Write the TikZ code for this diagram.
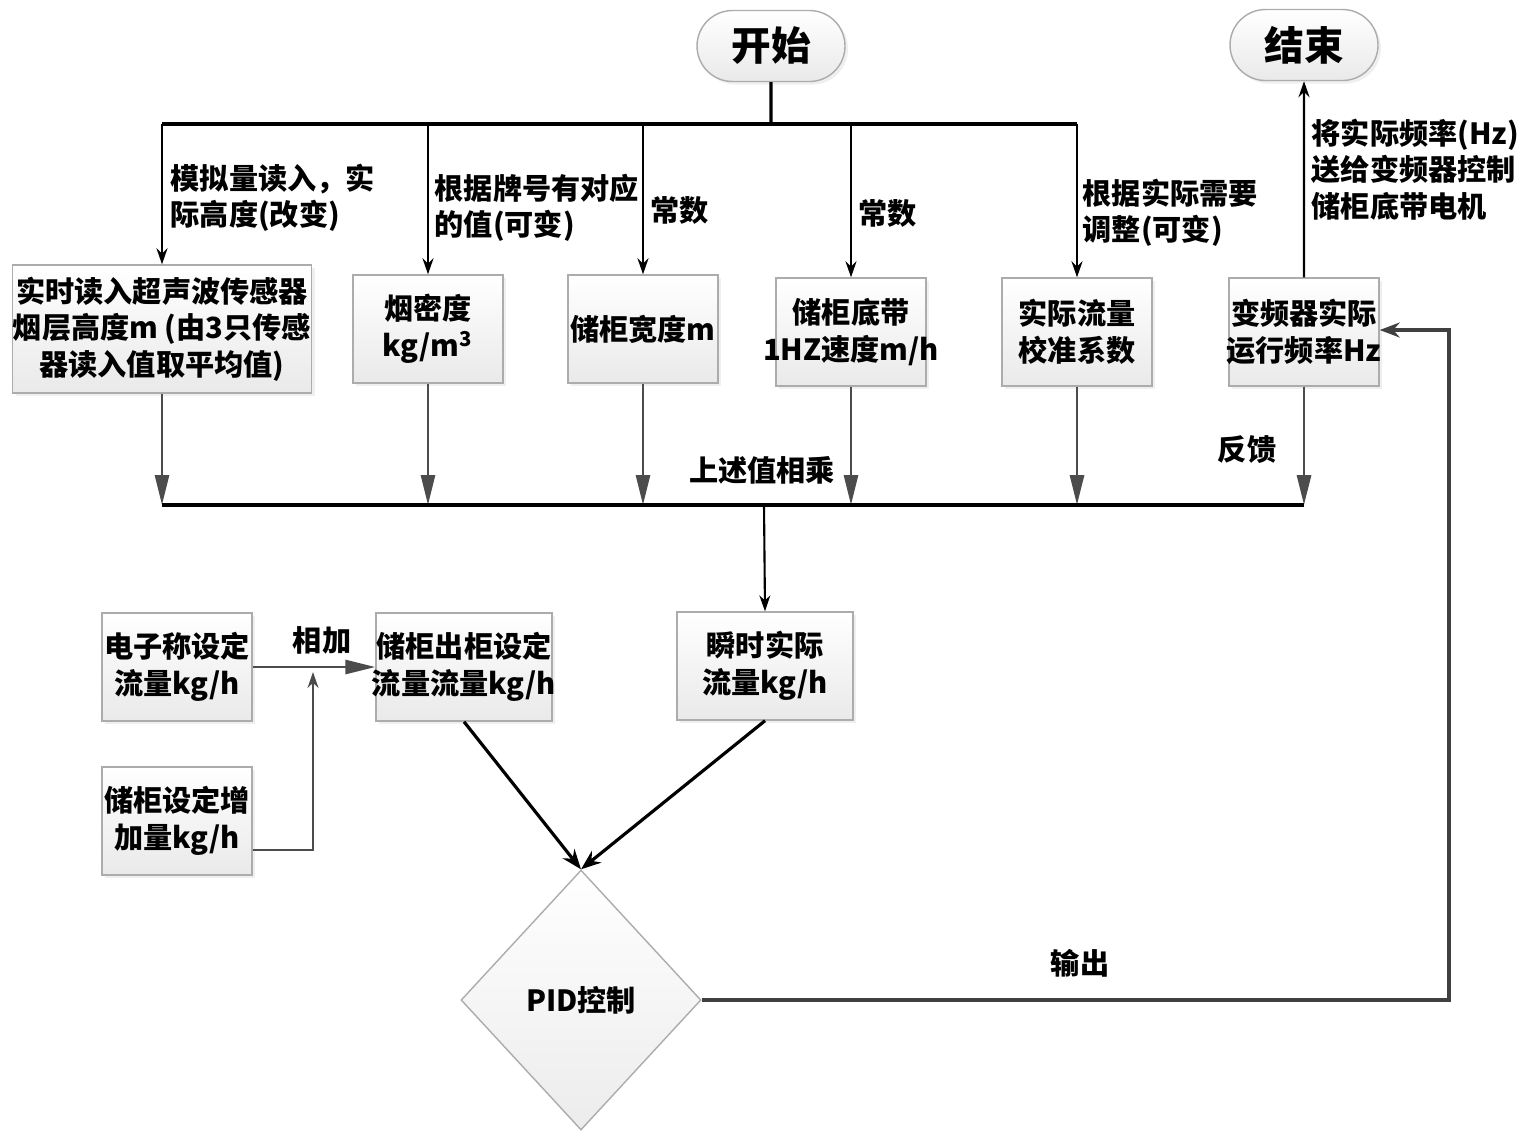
\documentclass[tikz,border=0pt]{standalone}
\usepackage{fontspec}
\setmainfont{Noto Sans CJK SC}
\usepackage{tikz}
\usetikzlibrary{arrows.meta}
\usetikzlibrary{shapes.misc}
\usetikzlibrary{shapes.geometric}
\usetikzlibrary{shadows}
\newcommand{\boxfont}{\bfseries\fontsize{8.3}{10.4}\selectfont}
\newcommand{\termfont}{\bfseries\fontsize{11.3}{13}\selectfont}
\newcommand{\widthbox}{15mm}
\newcommand{\widthwide}{17.6mm}
\newcommand{\heightbox}{10.8mm}
\newcommand{\fitline}[2]{\makebox[#1][c]{#2}}
\tikzset{
    common/.style={draw=gray!65, shade, top color=white, bottom color=gray!17, inner sep=0pt,
        drop shadow={shadow xshift=0.3mm, shadow yshift=-0.3mm, fill=gray!25}},
    box/.style={common, rectangle, align=center, font=\boxfont, minimum width=\widthbox, minimum height=\heightbox},
    widebox/.style={box, minimum width=\widthwide},
    terminal/.style={common, rounded rectangle, font=\termfont, minimum width=14.8mm, minimum height=7.1mm},
    decision/.style={draw=gray!65, shade, top color=white, bottom color=gray!15, diamond, font=\boxfont,
        inner sep=0pt, minimum width=24mm, minimum height=26mm},
    lbl/.style={align=left, font=\boxfont, inner sep=0pt},
    flow/.style={-{Stealth[length=1.6mm, width=1.1mm]}, line width=0.6pt},
    sumflow/.style={-{Triangle[length=3mm, width=1.4mm]}, draw=black!70, line width=0.8pt},
    bus/.style={line width=0.9pt},
    feed/.style={-{Stealth[length=2mm, width=1.5mm]}, draw=black!75, line width=0.9pt}
}
\begin{document}
\begin{tikzpicture}[x=0.1mm, y=-0.1mm]
    \useasboundingbox (0,0) rectangle (1535,1138);

    % start and finish
    \node[terminal] (start) at (771,46) {开始};
    \node[terminal] (finish) at (1304,45) {结束};

    % values that are multiplied
    \node[box, minimum width=29.9mm, minimum height=12.8mm] (sensor) at (162,329)
        {实时读入超声波传感器\\烟层高度m (由3只传感\\器读入值取平均值)};
    \node[box] (density) at (428,329) {烟密度\\kg/m\textsuperscript{3}};
    \node[box] (width) at (643,329) {\fitline{\widthbox}{储柜宽度m}};
    \node[box] (speed) at (851,332) {储柜底带\\\fitline{\widthbox}{1HZ速度m/h}};
    \node[box] (calib) at (1077,332) {实际流量\\校准系数};
    \node[box] (freq) at (1304,332) {变频器实际\\\fitline{\widthbox}{运行频率Hz}};

    % set points and PID
    \node[box] (scale) at (177,667) {电子称设定\\流量kg/h};
    \node[box] (increase) at (177,821) {储柜设定增\\加量kg/h};
    \node[widebox] (setflow) at (464,667) {储柜出柜设定\\\fitline{\widthwide}{流量流量kg/h}};
    \node[widebox] (actflow) at (765,666) {瞬时实际\\流量kg/h};
    \node[decision] (pid) at (581,1000) {PID控制};

    % labels
    \node[lbl, anchor=north west] (lbl-sensor) at (170,163) {模拟量读入，实\\际高度(改变)};
    \node[lbl, anchor=north west] (lbl-density) at (434,173) {根据牌号有对应\\的值(可变)};
    \node[lbl, anchor=west] (lbl-const-a) at (650,210) {常数};
    \node[lbl, anchor=west] (lbl-const-b) at (858,213) {常数};
    \node[lbl, anchor=north west] (lbl-adjust) at (1082,178) {根据实际需要\\调整(可变)};
    \node[lbl, anchor=north west] (lbl-send) at (1311,118) {将实际频率(Hz)\\送给变频器控制\\储柜底带电机};
    \node[lbl] (lbl-mult) at (762,470) {上述值相乘};
    \node[lbl] (lbl-feedback) at (1247,450) {反馈};
    \node[lbl] (lbl-add) at (322,640) {相加};
    \node[lbl] (lbl-output) at (1080,963) {输出};

    % top distribution
    \coordinate (topbus) at (771,124);
    \coordinate (botbus) at (764,505);
    \draw[bus] (start) -- (topbus);
    \draw[bus] (sensor.north |- topbus) -- (calib.north |- topbus);
    \foreach \b in {sensor, density, width, speed, calib}
        \draw[flow] (\b.north |- topbus) -- (\b.north);

    % product of the values
    \foreach \b in {sensor, density, width, speed, calib, freq}
        \draw[sumflow] (\b.south) -- (\b.south |- botbus);
    \draw[bus] (sensor.south |- botbus) -- (freq.south |- botbus);
    \draw[flow] (botbus) -- (actflow.north);
    \draw[flow] (freq) -- (finish);

    % set point
    \draw[sumflow] (scale) -- (setflow);
    \coordinate (addpt) at (313,672);
    \draw[flow, draw=black!70] (increase.east |- 0,850) -| (addpt);

    % to PID and back
    \draw[feed, draw=black] (setflow.south) -- (pid.north);
    \draw[feed, draw=black] (actflow.south) -- (pid.north);
    \coordinate (outcorner) at (1449,1000);
    \draw[feed] (pid.east) -- (outcorner) |- (freq.east |- 0,330);
\end{tikzpicture}
\end{document}
